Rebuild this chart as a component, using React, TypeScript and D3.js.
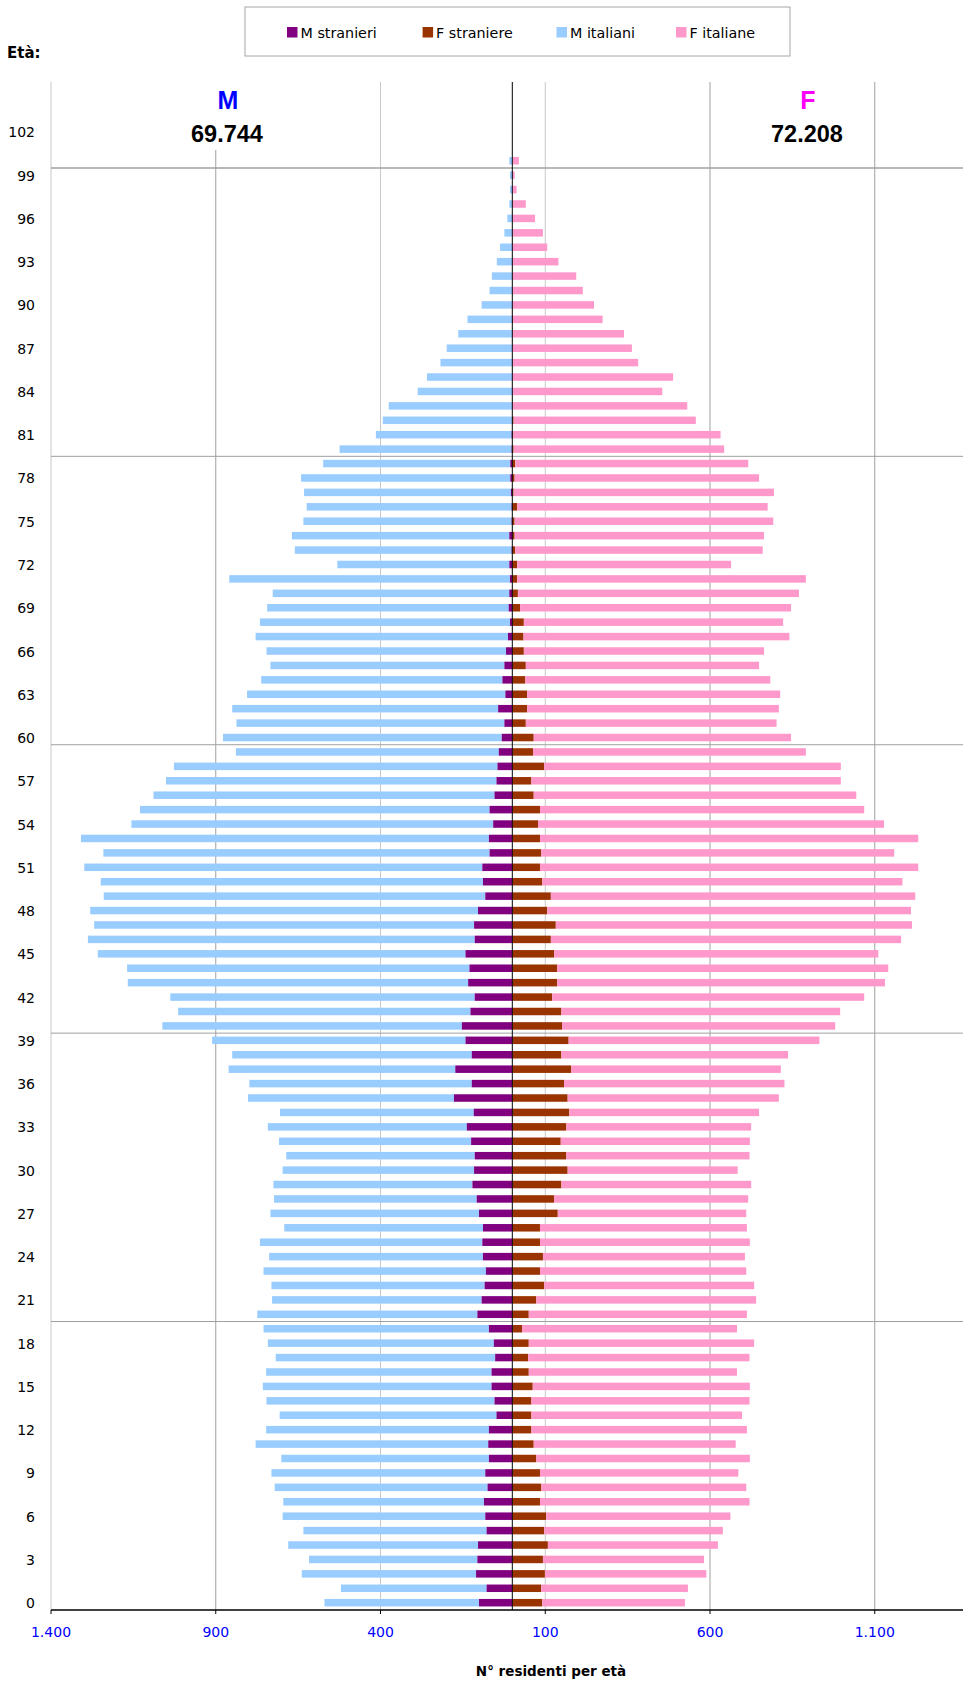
import React from "react";
import * as d3 from "d3";

// età 0..100, valori
const ages = d3.range(0, 101);

const mStranieri = [
  101, 78, 110, 106, 104, 78, 82, 86, 75, 82, 71, 73, 71, 48, 54, 63, 63, 52, 56, 71,
  106, 93, 84, 80, 89, 91, 89, 101, 108, 121, 116, 114, 125, 138, 117, 177, 123, 173, 123, 142,
  153, 127, 114, 134, 130, 142, 114, 116, 104, 82, 89, 91, 69, 71, 58, 69, 54, 48, 45, 41,
  32, 24, 43, 21, 30, 24, 19, 13, 7, 11, 9, 7, 9, 2, 9, 2, 2, 4, 6, 6,
  2, 2, 0, 0, 0, 0, 0, 0, 0, 0, 0, 0, 0, 0, 0, 0, 0, 0, 0, 0, 0,
];

const mItaliani = [
  469, 442, 529, 511, 576, 556, 615, 609, 646, 649, 630, 706, 676, 658, 692, 694, 684, 666, 686, 684,
  668, 636, 647, 675, 649, 675, 603, 633, 615, 604, 581, 572, 583, 604, 588, 625, 675, 688, 727, 769,
  909, 887, 924, 1033, 1039, 1116, 1174, 1153, 1177, 1158, 1160, 1208, 1172, 1238, 1098, 1061, 1035, 1003, 982, 798,
  846, 813, 807, 784, 732, 710, 727, 766, 759, 733, 718, 852, 522, 658, 660, 632, 622, 628, 635, 568,
  522, 412, 393, 375, 287, 259, 218, 199, 164, 136, 93, 69, 62, 47, 37, 24, 15, 9, 7, 7, 9,
];

const fStraniere = [
  91, 88, 99, 93, 108, 97, 103, 84, 88, 84, 73, 65, 58, 58, 58, 62, 50, 48, 50, 30,
  50, 73, 97, 84, 93, 84, 84, 138, 127, 149, 168, 164, 147, 164, 173, 168, 157, 179, 149, 171,
  151, 149, 121, 136, 136, 127, 117, 132, 106, 117, 91, 84, 88, 84, 78, 84, 65, 58, 97, 63,
  65, 41, 45, 45, 39, 41, 35, 34, 35, 24, 17, 15, 15, 9, 7, 7, 15, 4, 7, 9,
  4, 2, 4, 0, 0, 0, 0, 0, 0, 2, 0, 0, 0, 0, 0, 0, 0, 0, 0, 0, 0,
];

const fItaliane = [
  433, 445, 490, 489, 516, 542, 559, 636, 622, 602, 648, 613, 654, 639, 662, 659, 632, 672, 684, 652,
  662, 667, 637, 626, 613, 637, 628, 572, 589, 576, 516, 556, 574, 561, 576, 641, 669, 636, 688, 761,
  829, 846, 947, 995, 1005, 984, 1063, 1081, 1104, 1106, 1093, 1148, 1071, 1148, 1050, 984, 979, 939, 900, 828,
  781, 761, 764, 768, 744, 708, 729, 807, 787, 822, 853, 876, 649, 751, 757, 785, 760, 790, 742, 707,
  639, 630, 553, 531, 455, 488, 382, 363, 339, 272, 248, 214, 194, 140, 106, 93, 69, 41, 13, 7, 20,
];

const legendLabels = ["M stranieri", "F straniere", "M italiani", "F italiane"];
const colors = ["#800080", "#993300", "#99ccff", "#ff99cc"];
const totalM = "69.744";
const totalF = "72.208";
const xTicks = [-1400, -900, -400, 100, 600, 1100];
const ageTicks = d3.range(0, 103, 3);
const gridAges = [19.5, 39.5, 59.5, 79.5, 99.5];

const W = 963;
const H = 1682;
const plotTop = 82;
const plotBottom = 1610;
const barH = 7.5;

const locale = d3.formatLocale({ decimal: ",", thousands: ".", grouping: [3], currency: ["", "€"] });
const fmt = locale.format(",d");

export default function App() {
  const x = d3.scaleLinear().domain([-1400, 1400]).range([51, 973.6]);
  const y = d3.scaleLinear().domain([0, 102]).range([1602.7, 131.9]);
  const x0 = x(0);
  const left = x.range()[0];

  const legendX = [287, 422.6, 556.5, 676];
  const sans = "'DejaVu Sans', Verdana, sans-serif";
  const arial = "'Liberation Sans', Arial, sans-serif";

  return (
    <svg
      width={W}
      height={H}
      style={{ position: "absolute", left: 0, top: 0, background: "#fff" }}
    >
      <rect x={0} y={0} width={W} height={H} fill="#fff" />

      {/* legenda */}
      <rect x={245} y={7} width={545} height={49} fill="#fff" stroke="#a6a6a6" />
      {legendLabels.map((l, i) => (
        <g key={l}>
          <rect x={legendX[i]} y={27} width={10.5} height={10.5} fill={colors[i]} />
          <text x={legendX[i] + 13.5} y={37.5} fontFamily={sans} fontSize={14.3} fill="#000">
            {l}
          </text>
        </g>
      ))}

      <text x={7} y={58} fontFamily={sans} fontSize={15} fontWeight="bold">
        Età:
      </text>

      {/* griglia */}
      {xTicks.slice(1).map((t) => (
        <line
          key={t}
          x1={x(t)}
          x2={x(t)}
          y1={plotTop}
          y2={plotBottom}
          stroke={t === -400 || t === 100 ? "#c8c8c8" : "#a0a0a0"}
        />
      ))}
      <line x1={left} x2={left} y1={plotTop} y2={plotBottom} stroke="#c8c8c8" />
      {gridAges.map((a) => (
        <line key={a} x1={left} x2={W} y1={y(a)} y2={y(a)} stroke="#a0a0a0" strokeWidth={a === 99.5 ? 1.5 : 1} />
      ))}

      {/* totali */}
      <rect x={178} y={plotTop} width={100} height={68} fill="#fff" />
      <text x={228} y={108.5} textAnchor="middle" fontFamily={arial} fontWeight="bold" fontSize={25} fill="#0000ff">
        M
      </text>
      <text x={227} y={141.5} textAnchor="middle" fontFamily={arial} fontWeight="bold" fontSize={23.5} fill="#000">
        {totalM}
      </text>
      <text x={808} y={108.5} textAnchor="middle" fontFamily={arial} fontWeight="bold" fontSize={25} fill="#ff00ff">
        F
      </text>
      <text x={807} y={141.5} textAnchor="middle" fontFamily={arial} fontWeight="bold" fontSize={23.5} fill="#000">
        {totalF}
      </text>

      {/* barre */}
      {ages.map((a, i) => {
        const cy = y(a) - barH / 2;
        const ms = mStranieri[i];
        const mi = mItaliani[i];
        const fs = fStraniere[i];
        const fi = fItaliane[i];
        return (
          <g key={a}>
            <rect x={x(-(ms + mi))} y={cy} width={x(-ms) - x(-(ms + mi))} height={barH} fill={colors[2]} />
            <rect x={x(-ms)} y={cy} width={x0 - x(-ms)} height={barH} fill={colors[0]} />
            <rect x={x0} y={cy} width={x(fs) - x0} height={barH} fill={colors[1]} />
            <rect x={x(fs)} y={cy} width={x(fs + fi) - x(fs)} height={barH} fill={colors[3]} />
          </g>
        );
      })}

      <line x1={x0} x2={x0} y1={plotTop} y2={plotBottom} stroke="#000" />

      {/* asse x */}
      <line x1={left} x2={W} y1={plotBottom} y2={plotBottom} stroke="#000" strokeWidth={1.3} />
      {xTicks.map((t) => (
        <g key={t}>
          <line x1={x(t)} x2={x(t)} y1={plotBottom} y2={plotBottom + 4} stroke="#000" />
          <text x={x(t)} y={1637} textAnchor="middle" fontFamily={sans} fontSize={14} fill="#0000ff">
            {fmt(Math.abs(t))}
          </text>
        </g>
      ))}
      <text x={551} y={1676} textAnchor="middle" fontFamily={sans} fontSize={13.5} fontWeight="bold">
        N° residenti per età
      </text>

      {/* asse età */}
      {ageTicks.map((a) => (
        <text key={a} x={35} y={y(a) + 5.5} textAnchor="end" fontFamily={sans} fontSize={14} fill="#000">
          {a}
        </text>
      ))}
    </svg>
  );
}
